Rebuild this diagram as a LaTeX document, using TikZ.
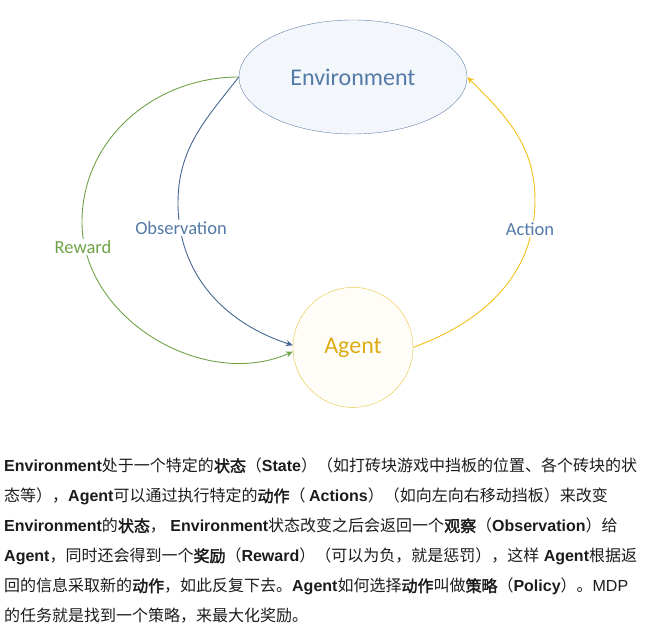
\documentclass[tikz,border=0pt]{standalone}
\usepackage{fontspec}
\setmainfont{Liberation Sans}
\newfontfamily\zhfont{Noto Sans CJK SC}
\newfontfamily\zhbfont[FakeBold=2]{Noto Sans CJK SC}
\newfontfamily\carl{Carlito}
\usetikzlibrary{arrows.meta,positioning,shapes.geometric}
\definecolor{envblue}{RGB}{84,122,168}
\definecolor{envline}{RGB}{96,128,170}
\definecolor{envfill}{RGB}{243,247,252}
\definecolor{agentgold}{RGB}{222,172,20}
\definecolor{agentline}{RGB}{232,196,60}
\definecolor{agentfill}{RGB}{255,253,247}
\definecolor{rwgreen}{RGB}{112,163,72}
\definecolor{obsblue}{RGB}{70,102,146}
\definecolor{actyellow}{RGB}{242,192,24}
\definecolor{bodytext}{RGB}{28,28,28}
\newcommand{\zh}[1]{{\zhfont #1}}
\newcommand{\zhb}[1]{{\zhbfont #1}}

\begin{document}
\begin{tikzpicture}[x=1pt,y=1pt]
\tikzstyle{L}=[fill=white,inner sep=1.5pt,font=\carl\fontsize{18.5}{20}\selectfont]
\tikzstyle{A}=[line width=0.9pt,-{Stealth[length=7pt,width=6pt]}]
\useasboundingbox (0,0) rectangle (657,639);
\node[ellipse,draw=envline,fill=envfill,minimum width=228pt,minimum height=114pt,
font=\carl\fontsize{24}{26}\selectfont,text=envblue](env) at (353,562){Environment};
\node[circle,draw=agentline,fill=agentfill,minimum size=120pt,
font=\carl\fontsize{24}{26}\selectfont,text=agentgold,below=153pt of env](agent){Agent};
% loop points
\coordinate (rw) at (82,417);
\coordinate (obs) at (178,436);
\coordinate (act) at (535,439);
\draw[A,rwgreen] (env.west) to[out=180,in=90] (rw) to[out=270,in=204] (agent.184);
\draw[A,obsblue] (env.west) to[out=232,in=90] (obs) to[out=270,in=162] (agent.178);
\draw[A,actyellow] (agent.east) to[out=20,in=270] (act) to[out=90,in=-45] (env.east);
\node[L,text=rwgreen] (rwlab) at (83,392){Reward};
\node[L,text=envblue] (obslab) at (181,411){Observation};
\node[L,text=envblue] (actlab) at (530,410){Action};
% caption
\node[anchor=north west,inner sep=0,align=left,text=bodytext,
font=\fontsize{16}{30}\selectfont] (txt) at (4,181){%
\textbf{Environment}\zh{处于一个特定的}\zhb{状态}\zh{（}\textbf{State}\zh{）（如打砖块游戏中挡板的位置、各个砖块的状}\\
\zh{态等），}\textbf{Agent}\zh{可以通过执行特定的}\zhb{动作}\zh{（ }\textbf{Actions}\zh{）（如向左向右移动挡板）来改变}\\
\textbf{Environment}\zh{的}\zhb{状态}\zh{，} \textbf{Environment}\zh{状态改变之后会返回一个}\zhb{观察}\zh{（}\textbf{Observation}\zh{）给}\\
\textbf{Agent}\zh{，同时还会得到一个}\zhb{奖励}\zh{（}\textbf{Reward}\zh{）（可以为负，就是惩罚），这样} \textbf{Agent}\zh{根据返}\\
\zh{回的信息采取新的}\zhb{动作}\zh{，如此反复下去。}\textbf{Agent}\zh{如何选择}\zhb{动作}\zh{叫做}\zhb{策略}\zh{（}\textbf{Policy}\zh{）。}MDP\\
\zh{的任务就是找到一个策略，来最大化奖励。}};
\end{tikzpicture}
\end{document}
